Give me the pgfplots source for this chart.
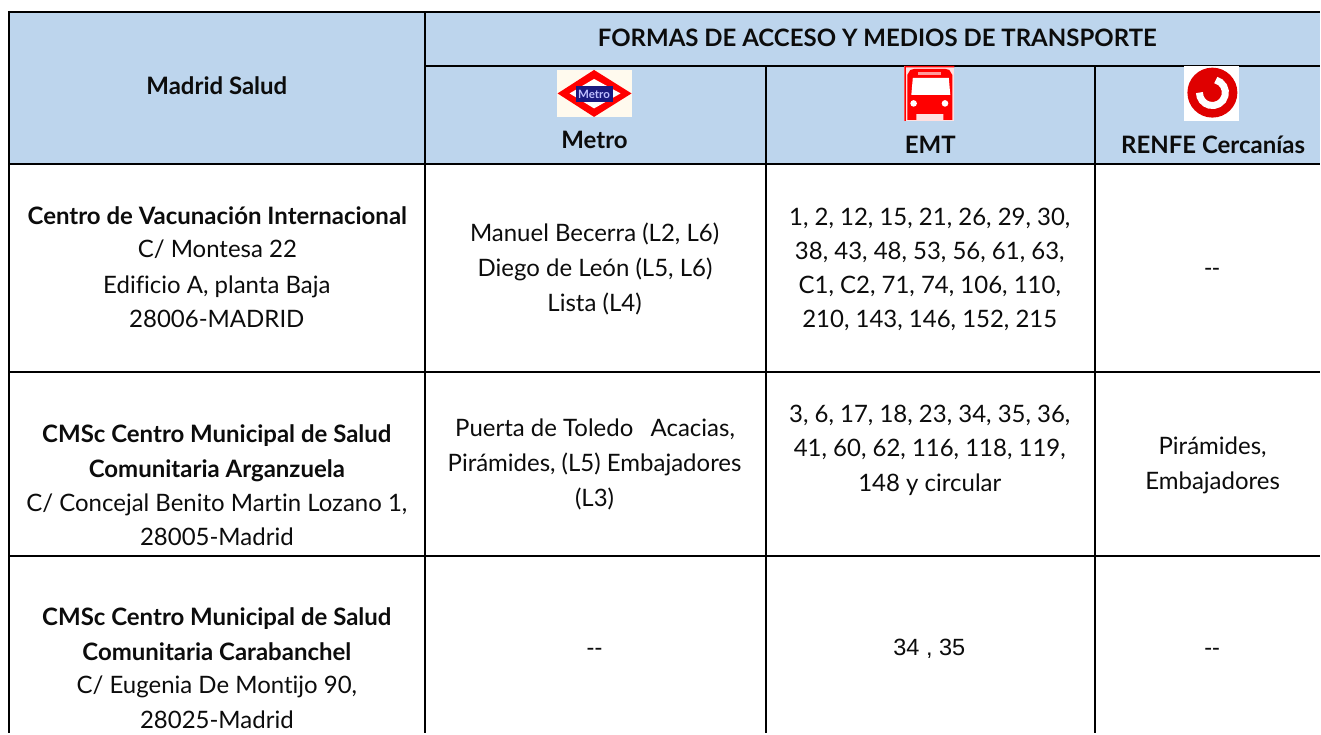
\documentclass[border=0pt]{standalone}
\usepackage{pgfplots}
\pgfplotsset{compat=1.18}
\usepackage{fontspec}
\setmainfont{Lato}[Ligatures=CommonOff]
\newfontfamily\arialf{Liberation Sans}
\definecolor{hdr}{HTML}{BDD5ED}
\definecolor{txt}{HTML}{0C0C0C}
\definecolor{rf}{HTML}{DF0000}
\definecolor{cream}{HTML}{FFFAEE}
\definecolor{mblue}{HTML}{1A1A80}
\newcommand{\T}[3]{\node[anchor=base,inner sep=0pt,yshift=-1.5pt,text=txt,font=\fontsize{24}{28}\selectfont] at (axis cs:#1,#2) {#3};}
\newcommand{\B}[3]{\node[anchor=base,inner sep=0pt,yshift=-1.5pt,text=txt,font=\fontsize{24}{28}\selectfont\bfseries] at (axis cs:#1,#2) {#3};}
\newcommand{\A}[3]{\node[anchor=base,inner sep=0pt,yshift=-1pt,text=txt,font=\fontsize{23.5}{28}\selectfont\arialf] at (axis cs:#1,#2) {#3};}
\begin{document}
\begin{tikzpicture}
\begin{axis}[scale only axis,width=1321pt,height=734pt,xmin=0,xmax=1321,ymin=0,ymax=734,y dir=reverse,hide axis,clip=false,axis line style={draw=none}]
\addplot[fill=white,draw=none] coordinates {(0,0)(1321,0)(1321,734)(0,734)} --cycle;
\addplot[fill=hdr,draw=none] coordinates {(9,12)(1321,12)(1321,164)(9,164)} --cycle;
% grid
\addplot[black,line width=2pt] coordinates {(8,12)(1321,12)};
\addplot[black,line width=2pt] coordinates {(425,66)(1321,66)};
\addplot[black,line width=2pt] coordinates {(9,164)(1321,164)};
\addplot[black,line width=2pt] coordinates {(9,372)(1321,372)};
\addplot[black,line width=2pt] coordinates {(9,556)(1321,556)};
\addplot[black,line width=2pt] coordinates {(9,11)(9,734)};
\addplot[black,line width=2pt] coordinates {(425,12)(425,734)};
\addplot[black,line width=2pt] coordinates {(766.5,66)(766.5,734)};
\addplot[black,line width=2pt] coordinates {(1095.5,66)(1095.5,734)};
% Metro icon
\addplot[fill=cream,draw=none] coordinates {(557.3,70.3)(632.7,70.3)(632.7,117)(557.3,117)} --cycle;
\addplot[fill=red,draw=none] coordinates {(558,93.5)(594.5,70)(632,93.5)(594.5,117)} --cycle;
\addplot[fill=white,draw=none] coordinates {(570,93.5)(594.5,79)(621,93.5)(594.5,108.5)} --cycle;
\addplot[fill=mblue,draw=none] coordinates {(576,86)(613.5,86)(613.5,102)(576,102)} --cycle;
\node[text=white!75!blue,font=\fontsize{11.5}{12}\selectfont\bfseries,inner sep=0pt] at (axis cs:594.5,94) {Metro};
% EMT icon
\addplot[fill=red!12!white,draw=none] coordinates {(905,66)(955,66)(955,121)(905,121)} --cycle;
\addplot[fill=red,draw=none] coordinates {(905,66)(955,66)(955,67.5)(906.5,67.5)(906.5,121)(905,121)} --cycle;
\addplot[fill=red,draw=none] coordinates {(908,75)(911,70)(915,69)(946,69)(950,70)(953,75)(953,120)(944,120)(944,114)(917,114)(917,120)(908,120)} --cycle;
\addplot[fill=white,draw=none] coordinates {(913.5,78)(949.5,78)(951,95)(912,95)} --cycle;
\addplot[fill=white!60!red,draw=none] coordinates {(918.3,71.7)(941.7,71.7)(941.7,75)(918.3,75)} --cycle;
\fill[white] (axis cs:914.3,103.5) circle (3.3pt);
\fill[white] (axis cs:945.7,103.5) circle (3.3pt);
% RENFE icon
\addplot[fill=white,draw=none] coordinates {(1185,66)(1240,66)(1240,121)(1185,121)} --cycle;
\fill[rf] (axis cs:1213.3,92.7) circle (25pt);
\draw[white,line width=7pt] (axis cs:1216.7,80.1) arc[start angle=75,end angle=-180,radius=13pt];
% text
\B{878}{45}{FORMAS DE ACCESO Y MEDIOS DE TRANSPORTE}
\B{217}{93.3}{Madrid Salud}
\B{595}{147.5}{Metro}
\B{931}{151.7}{EMT}
\B{1214}{151.7}{RENFE Cercanías}
\B{217.5}{222.7}{Centro de Vacunación Internacional}
\T{217.5}{256}{C/ Montesa 22}
\T{217}{292}{Edificio A, planta Baja}
\T{217}{326}{28006-MADRID}
\T{595}{240}{Manuel Becerra (L2, L6)}
\T{595.5}{275}{Diego de León (L5, L6)}
\T{595}{310}{Lista (L4)}
\T{930.5}{224}{1, 2, 12, 15, 21, 26, 29, 30,}
\T{930.5}{258}{38, 43, 48, 53, 56, 61, 63,}
\T{930.5}{292}{C1, C2, 71, 74, 106, 110,}
\T{930.5}{326}{210, 143, 146, 152, 215}
\A{1213}{274.5}{-{}-}
\B{217}{441}{CMSc Centro Municipal de Salud}
\B{217}{476}{Comunitaria Arganzuela}
\T{217}{510}{C/ Concejal Benito Martin Lozano 1,}
\T{217}{544}{28005-Madrid}
\T{595.5}{435}{Puerta de Toledo\ \ \hspace{5pt}Acacias,}
\T{595}{470}{Pirámides, (L5) Embajadores}
\T{595}{505}{(L3)}
\T{930.5}{421}{3, 6, 17, 18, 23, 34, 35, 36,}
\T{930.5}{455}{41, 60, 62, 116, 118, 119,}
\T{930.5}{490}{148 y circular}
\T{1213.5}{453}{Pirámides,}
\T{1213.5}{488}{Embajadores}
\B{217}{624}{CMSc Centro Municipal de Salud}
\B{217}{659}{Comunitaria Carabanchel}
\T{217}{693}{C/ Eugenia De Montijo 90,}
\T{217}{728}{28025-Madrid}
\A{595}{654.5}{-{}-}
\A{930}{654.5}{34 , 35}
\A{1213}{654.5}{-{}-}
\end{axis}
\end{tikzpicture}
\end{document}
